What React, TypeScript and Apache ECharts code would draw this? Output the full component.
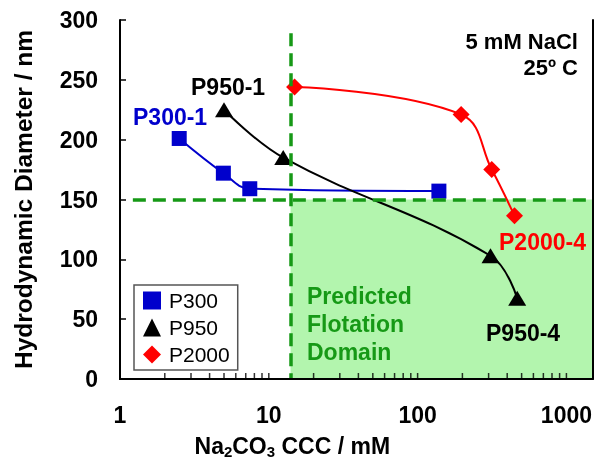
import React, { useEffect, useRef } from "react";
import * as echarts from "echarts";

const p300X = [2.5, 4.95, 7.45, 139];
const p300Y = [201, 172, 159, 157];
const p950X = [5, 12.5, 309, 467];
const p950Y = [225, 185, 103, 67.5];
const p2000X = [14.9, 196, 315, 448];
const p2000Y = [244, 221, 175, 136.5];
const minorTicks = [2, 3, 4, 5, 6, 7, 8, 9, 10, 20, 30, 40, 50, 60, 70, 80, 90, 100, 200, 300, 400, 500, 600, 700, 800, 900, 1000];
const xMin = 1;
const xMax = 1500;
const domainX = 14;
const domainY = 150;

const FONT = "Liberation Sans";
const GREEN = "#169916";

function pairs(xs: number[], ys: number[]) {
  return xs.map((x, i) => [x, ys[i]]);
}

export default function App() {
  const ref = useRef<HTMLDivElement>(null);
  useEffect(() => {
    if (!ref.current) return;
    const chart = echarts.init(ref.current, null, { renderer: "svg" });
    const axisLineStyle = { color: "#000", width: 2 };
    chart.setOption({
      animation: false,
      textStyle: { fontFamily: FONT },
      grid: { left: 120, right: 2, top: 20, bottom: 78 },
      legend: {
        orient: "vertical",
        left: 134,
        top: 285,
        padding: [5, 8, 5, 9],
        borderColor: "#555",
        borderWidth: 1.5,
        itemWidth: 18,
        itemHeight: 18,
        itemGap: 6,
        textStyle: { fontSize: 21, color: "#000", fontFamily: FONT, padding: [0, 0, 0, 3] },
        data: [
          { name: "P300", icon: "rect" },
          { name: "P950", icon: "triangle" },
          { name: "P2000", icon: "diamond" },
        ],
      },
      xAxis: [
        {
          type: "log",
          logBase: 10,
          min: xMin,
          max: xMax,
          z: 5,
          axisLine: { lineStyle: axisLineStyle },
          axisTick: { show: false },
          splitLine: { show: false },
          axisLabel: {
            showMaxLabel: false,
            margin: 24,
            fontSize: 23,
            fontWeight: "bold",
            color: "#000",
            fontFamily: FONT,
            formatter: (v: number) => String(Math.round(v)),
          },
          name: "Na{s|2}CO{s|3} CCC / mM",
          nameLocation: "middle",
          nameGap: 53,
          nameTextStyle: {
            fontSize: 23,
            fontWeight: "bold",
            color: "#000",
            fontFamily: FONT,
            padding: [0, 128, 0, 0],
            rich: {
              s: { fontSize: 15, fontWeight: "bold", color: "#000", fontFamily: FONT, padding: [12, 0, 0, 0] },
            },
          },
        },
        {
          type: "log",
          logBase: 10,
          min: xMin,
          max: xMax,
          position: "top",
          z: 5,
          axisLine: { lineStyle: axisLineStyle },
          axisTick: { show: false },
          axisLabel: { show: false },
          splitLine: { show: false },
        },
      ],
      yAxis: [
        {
          type: "value",
          min: 0,
          max: 300,
          interval: 50,
          z: 5,
          axisLine: { show: true, lineStyle: axisLineStyle },
          axisTick: { show: true, inside: true, length: 6, lineStyle: { color: "#000", width: 1.5 } },
          splitLine: { show: false },
          axisLabel: { margin: 22, fontSize: 23, fontWeight: "bold", color: "#000", fontFamily: FONT },
          name: "Hydrodynamic Diameter / nm",
          nameLocation: "middle",
          nameGap: 84,
          nameTextStyle: { fontSize: 24.5, fontWeight: "bold", color: "#000", fontFamily: FONT },
        },
        {
          type: "value",
          min: 0,
          max: 300,
          interval: 50,
          position: "right",
          z: 5,
          axisLine: { show: true, lineStyle: axisLineStyle },
          axisTick: { show: false },
          axisLabel: { show: false },
          splitLine: { show: false },
        },
      ],
      series: [
        {
          name: "domain",
          type: "line",
          data: [],
          silent: true,
          markArea: {
            silent: true,
            itemStyle: { color: "#b3f5ae" },
            data: [[{ coord: [domainX, 0] }, { coord: [xMax, domainY] }]],
          },
          markLine: {
            silent: true,
            symbol: "none",
            label: { show: false },
            lineStyle: { color: GREEN, width: 3.5, type: [13, 7] },
            data: [
              [{ coord: [1.22, domainY] }, { coord: [xMax, domainY] }],
              [{ coord: [domainX, 289] }, { coord: [domainX, 0] }],
            ],
          },
        },
        {
          name: "ticks",
          type: "scatter",
          silent: true,
          clip: false,
          z: 6,
          data: minorTicks.map((t) => [t, 0]),
          symbol: "rect",
          symbolSize: [1.5, 6],
          symbolOffset: [0, -3],
          itemStyle: { color: "#000" },
        },
        {
          name: "P300",
          type: "line",
          smooth: 0.4,
          z: 3,
          data: pairs(p300X, p300Y),
          symbol: "rect",
          symbolSize: 15,
          itemStyle: { color: "#0000cc" },
          lineStyle: { color: "#0000cc", width: 2 },
        },
        {
          name: "P950",
          type: "line",
          smooth: 0.4,
          z: 3,
          data: pairs(p950X, p950Y),
          symbol: "triangle",
          symbolSize: [18, 15],
          itemStyle: { color: "#000" },
          lineStyle: { color: "#000", width: 2 },
        },
        {
          name: "P2000",
          type: "line",
          smooth: 0.4,
          z: 3,
          data: pairs(p2000X, p2000Y),
          symbol: "diamond",
          symbolSize: 17,
          itemStyle: { color: "#ff0000" },
          lineStyle: { color: "#ff0000", width: 2 },
        },
      ],
      graphic: [
        {
          type: "text",
          z: 10,
          style: { text: "P300-1", x: 133, y: 117, fill: "#0000cc", font: `bold 23px ${FONT}`, align: "left", verticalAlign: "middle" },
        },
        {
          type: "text",
          z: 10,
          style: { text: "P950-1", x: 191, y: 87, fill: "#000", font: `bold 23px ${FONT}`, align: "left", verticalAlign: "middle" },
        },
        {
          type: "text",
          z: 10,
          style: { text: "P2000-4", x: 586, y: 242, fill: "#ff0000", font: `bold 23px ${FONT}`, align: "right", verticalAlign: "middle" },
        },
        {
          type: "text",
          z: 10,
          style: { text: "P950-4", x: 486, y: 333, fill: "#000", font: `bold 23px ${FONT}`, align: "left", verticalAlign: "middle" },
        },
        {
          type: "text",
          z: 10,
          style: { text: "5 mM NaCl\n25º C", x: 578, y: 28, fill: "#000", font: `bold 22px ${FONT}`, lineHeight: 26, align: "right", verticalAlign: "top" },
        },
        {
          type: "text",
          z: 10,
          style: { text: "Predicted\nFlotation\nDomain", x: 307, y: 282, fill: GREEN, font: `bold 23px ${FONT}`, lineHeight: 28, align: "left", verticalAlign: "top" },
        },
      ],
    });
    return () => chart.dispose();
  }, []);
  return <div ref={ref} style={{ position: "fixed", left: 0, top: 0, width: 595, height: 464 }} />;
}
